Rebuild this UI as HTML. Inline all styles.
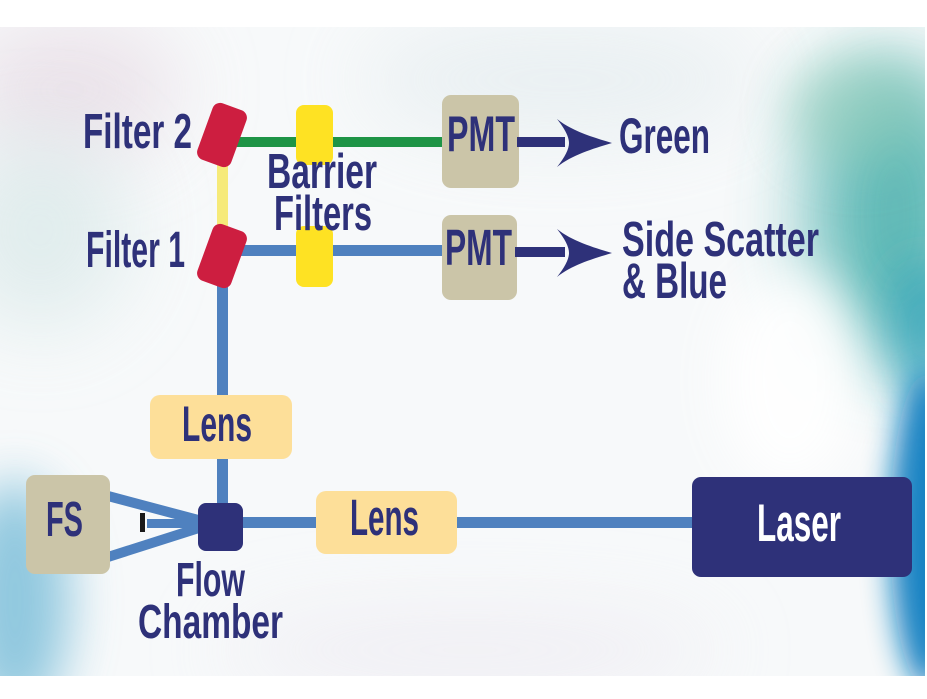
<!DOCTYPE html>
<html>
<head>
<meta charset="utf-8">
<style>
html,body{margin:0;padding:0;background:#fff;}
svg{display:block;}
text{font-family:"Liberation Sans Narrow","Liberation Sans",sans-serif;font-weight:bold;fill:#2e3179;}
</style>
</head>
<body>
<svg width="927" height="699" viewBox="0 0 927 699" xmlns="http://www.w3.org/2000/svg">
<defs>
<clipPath id="img"><rect x="0" y="27" width="925" height="649"/></clipPath>
<filter id="b40" x="-100%" y="-100%" width="300%" height="300%"><feGaussianBlur stdDeviation="40"/></filter>
<filter id="b25" x="-100%" y="-100%" width="300%" height="300%"><feGaussianBlur stdDeviation="25"/></filter>
<filter id="b15" x="-100%" y="-100%" width="300%" height="300%"><feGaussianBlur stdDeviation="15"/></filter>
</defs>

<!-- background -->
<rect x="0" y="0" width="927" height="699" fill="#ffffff"/>
<g clip-path="url(#img)">
  <rect x="0" y="27" width="925" height="649" fill="#f7f9fa"/>
  <ellipse cx="70" cy="90" rx="110" ry="70" fill="#e6d9e3" opacity="0.7" filter="url(#b40)"/>
  <ellipse cx="40" cy="230" rx="90" ry="100" fill="#d8e8e8" opacity="0.7" filter="url(#b40)"/>
  <ellipse cx="15" cy="600" rx="55" ry="120" fill="#5aaed0" opacity="0.65" filter="url(#b25)"/>
  <ellipse cx="470" cy="650" rx="250" ry="40" fill="#ebe7f0" opacity="0.6" filter="url(#b40)"/>
  <ellipse cx="560" cy="80" rx="200" ry="60" fill="#e4ecef" opacity="0.7" filter="url(#b40)"/>
  <ellipse cx="895" cy="215" rx="85" ry="150" fill="#45aeaa" opacity="0.85" filter="url(#b40)"/>
  <ellipse cx="860" cy="110" rx="70" ry="55" fill="#8ccab8" opacity="0.6" filter="url(#b25)"/>
  <ellipse cx="925" cy="330" rx="35" ry="70" fill="#2aa0b8" opacity="0.8" filter="url(#b25)"/>
  <ellipse cx="928" cy="530" rx="38" ry="160" fill="#0d7dc0" opacity="0.95" filter="url(#b15)"/>
  <ellipse cx="790" cy="380" rx="70" ry="110" fill="#ffffff" opacity="0.9" filter="url(#b25)"/>
</g>

<!-- connectors -->
<rect x="217" y="150" width="11" height="95" fill="#f6ea79"/>
<rect x="230" y="137" width="215" height="10" fill="#1e9446"/>
<rect x="230" y="245" width="215" height="11" fill="#4f81bf"/>
<rect x="217" y="256" width="11" height="250" fill="#4f81bf"/>
<rect x="228" y="517" width="468" height="11" fill="#4f81bf"/>
<line x1="108" y1="496" x2="202" y2="521" stroke="#4f81bf" stroke-width="10"/>
<line x1="108" y1="557" x2="202" y2="527" stroke="#4f81bf" stroke-width="10"/>
<rect x="147" y="519" width="55" height="9" fill="#4f81bf"/>
<rect x="140" y="513" width="5" height="19" fill="#1a1a1a"/>

<!-- filters -->
<rect x="-18" y="-30" width="36" height="60" rx="8" fill="#cd1e40" transform="translate(222,135) rotate(20)"/>
<rect x="-18" y="-30" width="36" height="60" rx="8" fill="#cd1e40" transform="translate(222,256) rotate(20)"/>

<!-- barrier filters -->
<rect x="296" y="105" width="37" height="60" rx="8" fill="#fee223"/>
<rect x="296" y="226" width="37" height="61" rx="8" fill="#fee223"/>

<!-- PMTs -->
<rect x="442" y="95" width="77" height="93" rx="9" fill="#cbc5a8"/>
<rect x="442" y="215" width="75" height="85" rx="9" fill="#cbc5a8"/>

<!-- arrows -->
<rect x="517" y="137" width="48" height="10" fill="#2e3179"/>
<path d="M612,143 C592,137 572,131 557,119 C565,129 569,137 569,143 C569,149 565,157 557,167 C572,155 592,149 612,143 Z" fill="#2e3179"/>
<rect x="515" y="247" width="50" height="10" fill="#2e3179"/>
<path d="M612,253 C592,247 572,241 557,229 C565,239 569,247 569,253 C569,259 565,267 557,277 C572,265 592,259 612,253 Z" fill="#2e3179"/>

<!-- lenses, FS, chamber, laser -->
<rect x="150" y="395" width="142" height="64" rx="10" fill="#fddf99"/>
<rect x="316" y="491" width="141" height="63" rx="10" fill="#fddf99"/>
<rect x="26" y="475" width="84" height="99" rx="9" fill="#cbc5a8"/>
<rect x="198" y="503" width="45" height="48" rx="8" fill="#2e3179"/>
<rect x="692" y="477" width="220" height="100" rx="9" fill="#2e3179"/>

<!-- labels -->
<text x="83" y="148" font-size="49" textLength="109" lengthAdjust="spacingAndGlyphs">Filter 2</text>
<text x="86" y="267" font-size="51" textLength="99" lengthAdjust="spacingAndGlyphs">Filter 1</text>
<text x="267" y="188" font-size="49" textLength="110" lengthAdjust="spacingAndGlyphs">Barrier</text>
<text x="274" y="230" font-size="49" textLength="98" lengthAdjust="spacingAndGlyphs">Filters</text>
<text x="447" y="151" font-size="50" textLength="68" lengthAdjust="spacingAndGlyphs">PMT</text>
<text x="445" y="265" font-size="51" textLength="67" lengthAdjust="spacingAndGlyphs">PMT</text>
<text x="619" y="153" font-size="50" textLength="91" lengthAdjust="spacingAndGlyphs">Green</text>
<text x="622" y="256" font-size="49" textLength="197" lengthAdjust="spacingAndGlyphs">Side Scatter</text>
<text x="622" y="298" font-size="50" textLength="105" lengthAdjust="spacingAndGlyphs">&amp; Blue</text>
<text x="182" y="441" font-size="50" textLength="70" lengthAdjust="spacingAndGlyphs">Lens</text>
<text x="350" y="535" font-size="51" textLength="69" lengthAdjust="spacingAndGlyphs">Lens</text>
<text x="46" y="536" font-size="49" textLength="37" lengthAdjust="spacingAndGlyphs">FS</text>
<text x="176" y="596" font-size="48" textLength="69" lengthAdjust="spacingAndGlyphs">Flow</text>
<text x="138" y="638" font-size="48" textLength="145" lengthAdjust="spacingAndGlyphs">Chamber</text>
<text x="757" y="541" font-size="53" textLength="84" lengthAdjust="spacingAndGlyphs" style="fill:#ffffff">Laser</text>
</svg>
</body>
</html>
